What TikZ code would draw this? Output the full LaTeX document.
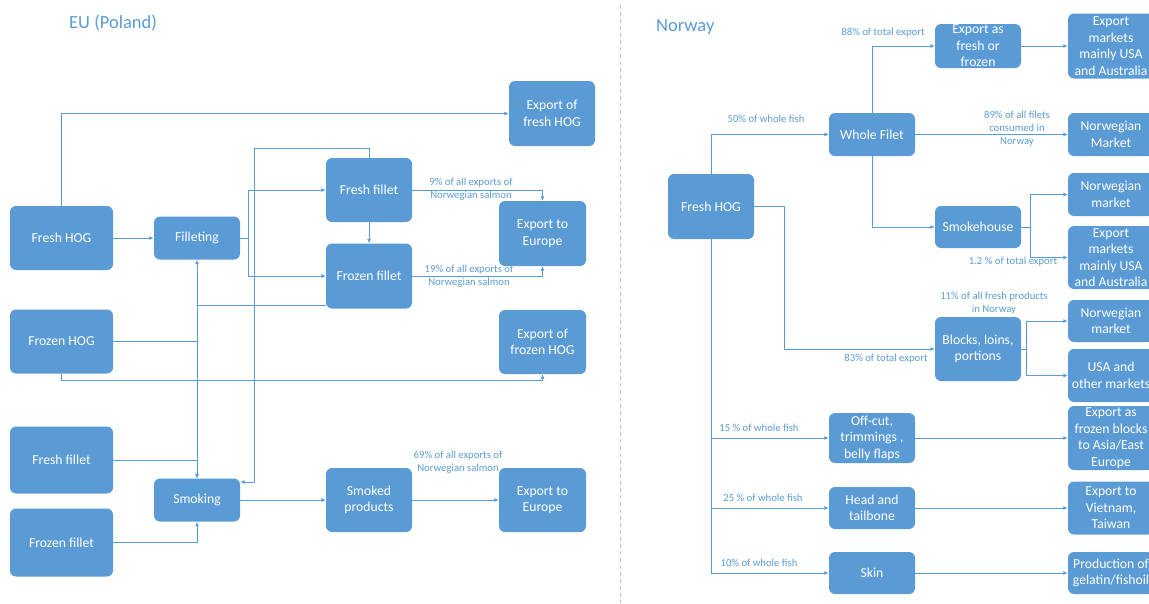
\documentclass[tikz,border=0pt]{standalone}
\usepackage{fontspec}
\setmainfont{Carlito}
\usetikzlibrary{arrows.meta,calc}
\definecolor{boxblue}{HTML}{5B9BD5}
\definecolor{lineblue}{HTML}{5B9BD5}
\definecolor{sepgray}{HTML}{C0C0C0}
\begin{document}
\begin{tikzpicture}[x=1pt,y=-1pt,
  box/.style={rectangle, rounded corners=6pt, fill=boxblue, text=white, align=center, inner sep=0pt, font=\fontsize{13.7}{16.5}\selectfont},
  conn/.style={draw=lineblue, line width=0.9pt},
  arr/.style={conn, -{Latex[length=4.5pt,width=4pt]}},
  lbl/.style={text=lineblue, align=center, inner sep=0pt, font=\fontsize{10.7}{13}\selectfont},
  ttl/.style={text=lineblue, anchor=west, inner sep=0pt, font=\fontsize{18.5}{20}\selectfont}]
\useasboundingbox (0,0) rectangle (1149,603);

% separator
\draw[sepgray, line width=0.8pt, dash pattern=on 4pt off 3pt] (620,5) -- (620,603);

% titles
\node[ttl] (tEU) at (69,23) {EU (Poland)};
\node[ttl] (tNO) at (656,27) {Norway};

% ---------------- Left (EU) ----------------
\node[box, minimum width=103pt, minimum height=64pt] (fhog) at (61.5,238) {Fresh HOG};
\node[box, minimum width=103pt, minimum height=64pt] (frhog) at (61.5,341.5) {Frozen HOG};
\node[box, minimum width=103pt, minimum height=67pt] (ffl) at (61.5,460) {Fresh fillet};
\node[box, minimum width=103pt, minimum height=68pt] (frfl) at (61.5,542.5) {Frozen fillet};
\node[box, minimum width=86pt, minimum height=43pt] (fill) at (197,238) {Filleting};
\node[box, minimum width=86pt, minimum height=43pt] (smk) at (197,500) {Smoking};
\node[box, minimum width=86pt, minimum height=64pt] (ffm) at (369,190) {Fresh fillet};
\node[box, minimum width=86pt, minimum height=65pt] (frfm) at (369,276) {Frozen fillet};
\node[box, minimum width=86pt, minimum height=64pt] (smp) at (369,500) {Smoked\\products};
\node[box, minimum width=86pt, minimum height=65pt] (exfhog) at (552,113.5) {Export of\\fresh HOG};
\node[box, minimum width=87pt, minimum height=65pt] (exeu1) at (542.5,233.5) {Export to\\Europe};
\node[box, minimum width=87pt, minimum height=64pt] (exfrhog) at (542.5,342) {Export of\\frozen HOG};
\node[box, minimum width=87pt, minimum height=64pt] (exeu2) at (542.5,500) {Export to\\Europe};

\coordinate (fj) at (248,238);
\coordinate (sA) at (254,148);
\coordinate (sB) at (254,482);

\draw[arr] (fhog.north) |- (exfhog.west);
\draw[arr] (fhog.east) -- (fill.west);
\draw[conn] (fill.east) -- (fj);
\draw[arr] (fj) |- (ffm.west);
\draw[arr] (fj) |- (frfm.west);
\draw[arr] (ffm.north) |- (sA) -- (sB) -- (sB -| smk.east);
\draw[arr] (ffm.south) -- (frfm.north);
\draw[arr] (ffm.east) -| (exeu1.north);
\draw[arr] (frfm.east) -| (exeu1.south);
\draw[arr] ([yshift=3pt]frfm.south west) -| (smk.north);
\draw[arr] (frhog.east) -| (fill.south);
\draw[arr] (frhog.south) -- ++(0,7) -| (exfrhog.south);
\draw[arr] (ffl.east) -| (smk.north);
\draw[arr] (frfl.east) -| (smk.south);
\draw[arr] (smk.east) -- (smp.west);
\draw[arr] (smp.east) -- (exeu2.west);

\node[lbl] (l9) at (471,189) {9\% of all exports of\\Norwegian salmon};
\node[lbl] (l19) at (469,276) {19\% of all exports of\\Norwegian salmon};
\node[lbl] (l69) at (458,462) {69\% of all exports of\\Norwegian salmon};

% ---------------- Right (Norway) ----------------
\node[box, minimum width=86pt, minimum height=65pt] (rfhog) at (711,206.5) {Fresh HOG};
\node[box, minimum width=86pt, minimum height=43pt] (wf) at (872,134.5) {Whole Filet};
\node[box, minimum width=86pt, minimum height=44pt] (efr) at (978,46) {Export as\\fresh or\\frozen};
\node[box, minimum width=86pt, minimum height=65pt] (em1) at (1111,46) {Export\\markets\\mainly USA\\and Australia};
\node[box, minimum width=86pt, minimum height=43pt] (nm1) at (1111,134.5) {Norwegian\\Market};
\node[box, minimum width=86pt, minimum height=42pt] (smh) at (978,227) {Smokehouse};
\node[box, minimum width=86pt, minimum height=43pt] (nm2) at (1111,194.5) {Norwegian\\market};
\node[box, minimum width=86pt, minimum height=63pt] (em2) at (1111,257.5) {Export\\markets\\mainly USA\\and Australia};
\node[box, minimum width=86pt, minimum height=64pt] (blk) at (978,349) {Blocks, loins,\\portions};
\node[box, minimum width=86pt, minimum height=42pt] (nm3) at (1111,321) {Norwegian\\market};
\node[box, minimum width=86pt, minimum height=53pt] (usa) at (1111,375.5) {USA and\\other markets};
\node[box, minimum width=86pt, minimum height=50pt] (off) at (872,438) {Off-cut,\\trimmings ,\\belly flaps};
\node[box, minimum width=86pt, minimum height=64pt] (exfb) at (1111,438) {Export as\\frozen blocks\\to Asia/East\\Europe};
\node[box, minimum width=86pt, minimum height=42pt] (head) at (872,508) {Head and\\tailbone};
\node[box, minimum width=86pt, minimum height=53pt] (viet) at (1111,508) {Export to\\Vietnam,\\Taiwan};
\node[box, minimum width=86pt, minimum height=42pt] (skin) at (872,573) {Skin};
\node[box, minimum width=86pt, minimum height=42pt] (prod) at (1111,573) {Production of\\gelatin/fishoil};

\coordinate (sj) at (1030,227);
\coordinate (bj) at (784,206.5);
\coordinate (bj2) at (1026,349);

\draw[arr] (rfhog.north) |- (wf.west);
\draw[arr] (wf.north) |- (efr.west);
\draw[arr] (wf.south) |- (smh.west);
\draw[arr] (wf.east) -- (nm1.west);
\draw[arr] (efr.east) -- (em1.west);
\draw[conn] (smh.east) -- (sj);
\draw[arr] (sj) |- (nm2.west);
\draw[arr] (sj) |- (em2.west);
\draw[arr] (rfhog.east) -- (bj) |- (blk.west);
\draw[conn] (blk.east) -- (bj2);
\draw[arr] (bj2) |- (nm3.west);
\draw[arr] (bj2) |- (usa.west);
\draw[arr] (rfhog.south) |- (off.west);
\draw[arr] (rfhog.south) |- (head.west);
\draw[arr] (rfhog.south) |- (skin.west);
\draw[arr] (off.east) -- (exfb.west);
\draw[arr] (head.east) -- (viet.west);
\draw[arr] (skin.east) -- (prod.west);

\node[lbl] (l50) at (766,119) {50\% of whole fish};
\node[lbl] (l88) at (883,33) {88\% of total export};
\node[lbl] (l89) at (1017,128.5) {89\% of all filets\\consumed in\\Norway};
\node[lbl] (l12) at (1013,262) {1.2 \% of total export};
\node[lbl] (l11) at (994,303) {11\% of all fresh products\\in Norway};
\node[lbl] (l83) at (886,359) {83\% of total export};
\node[lbl] (l15) at (759,428) {15 \% of whole fish};
\node[lbl] (l25) at (763,498) {25 \% of whole fish};
\node[lbl] (l10) at (759,563) {10\% of whole fish};
\end{tikzpicture}
\end{document}
